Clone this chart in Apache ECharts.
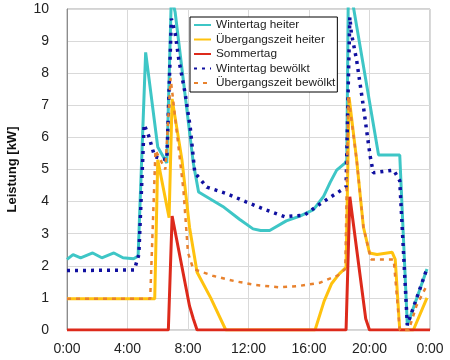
<!DOCTYPE html>
<html><head><meta charset="utf-8">
<script src="https://cdn.jsdelivr.net/npm/echarts@6/dist/echarts.min.js"></script>
<style>html,body{margin:0;padding:0;background:#fff}#c{width:450px;height:360px}</style>
</head><body><div id="c"></div>
<script>
const seriesNames = ["Wintertag heiter","Übergangszeit heiter","Sommertag","Wintertag bewölkt","Übergangszeit bewölkt"];
const xTickLabels = ["0:00","4:00","8:00","12:00","16:00","20:00","0:00"];
const yAxisName = "Leistung [kW]";
// [hour, kW]
const winterHeiter = [[0,2.2],[0.4,2.35],[0.9,2.25],[1.7,2.4],[2.3,2.25],[3.1,2.4],[3.7,2.25],[4.4,2.22],[4.7,2.3],[5.2,8.65],[6.0,5.7],[6.6,5.2],[6.9,10.4],[7.15,9.9],[8.35,5.2],[8.7,4.3],[10.3,3.85],[11.4,3.45],[12.3,3.15],[12.8,3.1],[13.4,3.1],[14.5,3.4],[15.4,3.55],[16.3,3.75],[16.95,4.15],[17.4,4.6],[17.83,4.98],[18.38,5.2],[18.5,5.3],[18.6,10.6],[18.85,10.3],[20.6,5.45],[22.0,5.45],[22.5,0.15],[23.8,1.9]];
const uebergangHeiter = [[0,0.97],[5.8,0.97],[6.0,5.3],[6.75,3.5],[6.95,7.2],[7.6,5.3],[8.1,3.2],[8.6,1.8],[9.5,1.0],[10.5,0],[16.4,0],[17.0,0.9],[17.5,1.45],[18.0,1.75],[18.45,1.95],[18.65,7.25],[19.15,5.3],[19.6,3.2],[20.0,2.4],[20.5,2.35],[21.5,2.42],[21.7,2.2],[22.0,0],[22.9,0],[23.8,1.0]];
const sommertag = [[0,0],[6.7,0],[6.95,3.55],[8.1,0.75],[8.35,0.35],[8.6,0],[18.45,0],[18.7,4.15],[19.75,0.35],[20.0,0],[24,0]];
const winterBewoelkt = [[0,1.85],[4.45,1.87],[4.75,2.35],[5.1,6.4],[5.4,6.05],[5.8,5.4],[6.6,5.3],[6.9,9.7],[7.15,9.25],[7.4,8.4],[7.8,7.4],[8.15,6.3],[8.45,4.9],[9.25,4.45],[10.55,4.25],[11.8,4.0],[13.1,3.75],[14.4,3.53],[15.7,3.58],[16.8,3.95],[17.85,4.27],[18.45,4.45],[18.6,7.7],[18.7,9.75],[18.8,9.25],[19.15,8.4],[19.6,6.95],[19.9,5.9],[20.05,5.4],[20.25,4.9],[21.6,4.98],[22.0,4.65],[22.5,0.15],[23.8,1.92]];
const uebergangBewoelkt = [[0,0.97],[5.5,0.97],[5.85,5.6],[6.5,5.0],[6.85,7.85],[7.7,4.35],[8.0,2.4],[8.35,1.9],[9.7,1.68],[11.1,1.52],[12.5,1.4],[14.0,1.33],[15.3,1.37],[16.7,1.47],[17.9,1.7],[18.4,1.9],[18.6,7.3],[19.15,5.3],[19.6,3.2],[20.1,2.2],[21.6,2.2],[22.0,0],[22.6,0],[23.1,0.75],[23.8,1.4]];

const font = "'Liberation Sans', Arial, sans-serif";
const chart = echarts.init(document.getElementById('c'), null, {renderer:'canvas'});
function mk(name, data, color, width, type, z){
  return {name, type:'line', data, symbol:'none', showSymbol:false, smooth:false, z,
    lineStyle:{color, width, type, cap:'butt'}, itemStyle:{color}, emphasis:{disabled:true}};
}
chart.setOption({
  animation:false,
  grid:{left:67, right:20, top:9, bottom:30, show:true, borderColor:'#a6a6a6', borderWidth:1,
    containLabel:false, outerBoundsMode:'none'},
  legend:{
    orient:'vertical', left:190, top:17, itemWidth:17, itemHeight:12, itemGap:2.5,
    itemStyle:{opacity:0},
    padding:[2,2,3,3], borderColor:'#000', borderWidth:1, backgroundColor:'#fff',
    textStyle:{fontFamily:font, fontSize:11.8, color:'#222'},
    data:seriesNames
  },
  xAxis:{type:'value', min:0, max:24, interval:4,
    axisLine:{show:false}, axisTick:{show:false},
    splitLine:{show:true, lineStyle:{color:'#d9d9d9', width:1}},
    axisLabel:{fontFamily:font, fontSize:14, color:'#222', margin:12,
      formatter:(v)=>xTickLabels[Math.round(v/4)]}
  },
  yAxis:{type:'value', min:0, max:10, interval:1,
    name:yAxisName, nameLocation:'middle', nameGap:48, nameRotate:90,
    nameTextStyle:{fontFamily:font, fontSize:13, fontWeight:'bold', color:'#111'},
    axisLine:{show:true, lineStyle:{color:'#8c8c8c', width:1}}, axisTick:{show:false},
    splitLine:{show:true, lineStyle:{color:'#d9d9d9', width:1}},
    axisLabel:{fontFamily:font, fontSize:14, color:'#222', margin:18}
  },
  series:[
    mk(seriesNames[0], winterHeiter, '#3ec6c6', 3, 'solid', 2),
    mk(seriesNames[1], uebergangHeiter, '#ffc20e', 3, 'solid', 3),
    mk(seriesNames[2], sommertag, '#dd2a1b', 3, 'solid', 4),
    mk(seriesNames[3], winterBewoelkt, '#1010a0', 3.5, [3,5], 5),
    mk(seriesNames[4], uebergangBewoelkt, '#e8822e', 2.5, [4,5], 6)
  ]
});
</script></body></html>
